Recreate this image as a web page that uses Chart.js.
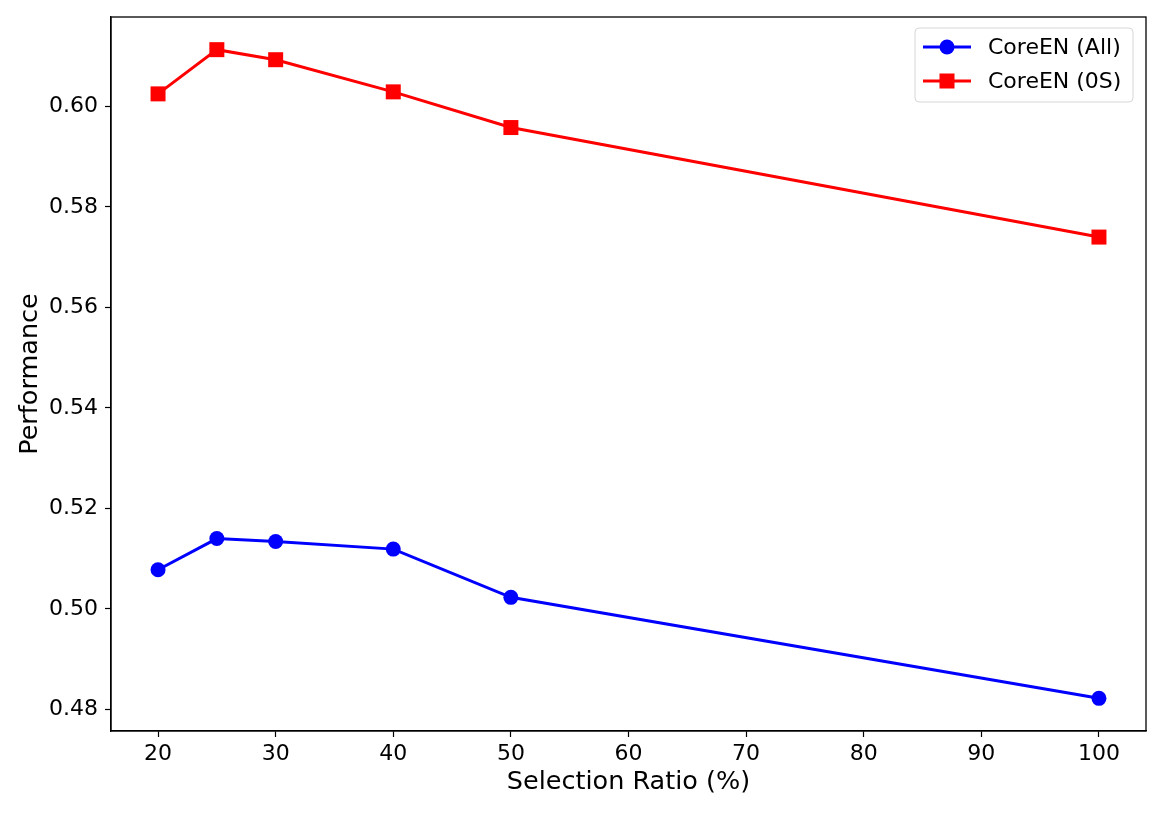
<!DOCTYPE html>
<html>
<head>
<meta charset="utf-8">
<script src="https://cdn.jsdelivr.net/npm/chart.js@4"></script>
<style>
html,body{margin:0;padding:0;background:#fff;}
#wrap{width:1163px;height:814px;position:relative;}
</style>
</head>
<body>
<div id="wrap"><canvas id="c" width="1163" height="814"></canvas></div>
<script>
const ratios = [20, 25, 30, 40, 50, 100];
const coreAll = [0.5078, 0.5140, 0.5134, 0.5119, 0.5023, 0.4822];
const core0S = [0.6025, 0.6113, 0.6093, 0.6029, 0.5958, 0.5740];
const xTicks = [20, 30, 40, 50, 60, 70, 80, 90, 100];
const yTicks = [0.48, 0.50, 0.52, 0.54, 0.56, 0.58, 0.60];
const seriesNames = ['CoreEN (All)', 'CoreEN (0S)'];

const FONT = "'DejaVu Sans', sans-serif";

const framePlugin = {
  id: 'frame',
  afterDraw(chart) {
    const ctx = chart.ctx;
    const ca = chart.chartArea;
    ctx.save();
    ctx.strokeStyle = '#000';
    ctx.lineWidth = 1.3;
    ctx.strokeRect(ca.left, ca.top, ca.right - ca.left, ca.bottom - ca.top);
    ctx.restore();
  }
};

const legendPlugin = {
  id: 'mplLegend',
  afterDatasetsDraw(chart) {
    const ctx = chart.ctx;
    const ca = chart.chartArea;
    const x0 = ca.right - 231, y0 = ca.top + 11, w = 218, h = 74;
    ctx.save();
    ctx.beginPath();
    const r = 4;
    ctx.moveTo(x0 + r, y0);
    ctx.arcTo(x0 + w, y0, x0 + w, y0 + h, r);
    ctx.arcTo(x0 + w, y0 + h, x0, y0 + h, r);
    ctx.arcTo(x0, y0 + h, x0, y0, r);
    ctx.arcTo(x0, y0, x0 + w, y0, r);
    ctx.closePath();
    ctx.fillStyle = 'rgba(255,255,255,0.8)';
    ctx.fill();
    ctx.strokeStyle = '#d6d6d6';
    ctx.lineWidth = 1;
    ctx.stroke();
    chart.data.datasets.forEach((ds, i) => {
      const cy = y0 + 19 + i * 34;
      ctx.strokeStyle = ds.borderColor;
      ctx.lineWidth = 3;
      ctx.beginPath();
      ctx.moveTo(x0 + 8, cy);
      ctx.lineTo(x0 + 56, cy);
      ctx.stroke();
      ctx.fillStyle = ds.borderColor;
      if (ds.pointStyle === 'rect') {
        ctx.fillRect(x0 + 32 - 7.5, cy - 7.5, 15, 15);
      } else {
        ctx.beginPath();
        ctx.arc(x0 + 32, cy, 7.5, 0, Math.PI * 2);
        ctx.fill();
      }
      ctx.fillStyle = '#000';
      ctx.font = '22px ' + FONT;
      ctx.textBaseline = 'middle';
      ctx.textAlign = 'left';
      ctx.fillText(ds.label, x0 + 73, cy + 1);
    });
    ctx.restore();
  }
};

new Chart(document.getElementById('c'), {
  type: 'line',
  data: {
    datasets: [
      {
        label: seriesNames[0],
        data: ratios.map((x, i) => ({x, y: coreAll[i]})),
        borderColor: '#0000ff',
        backgroundColor: '#0000ff',
        borderWidth: 3,
        pointStyle: 'circle',
        pointRadius: 7.5,
        pointHoverRadius: 7.5,
        pointBorderWidth: 0,
        tension: 0
      },
      {
        label: seriesNames[1],
        data: ratios.map((x, i) => ({x, y: core0S[i]})),
        borderColor: '#ff0000',
        backgroundColor: '#ff0000',
        borderWidth: 3,
        pointStyle: 'rect',
        pointRadius: 10.6,
        pointHoverRadius: 10.6,
        pointBorderWidth: 0,
        tension: 0
      }
    ]
  },
  options: {
    responsive: false,
    animation: false,
    events: [],
    layout: {padding: {top: 17, right: 17, left: 0, bottom: 0}},
    plugins: {legend: {display: false}, tooltip: {enabled: false}},
    scales: {
      x: {
        type: 'linear',
        min: 16, max: 104,
        afterBuildTicks: (s) => { s.ticks = xTicks.map(v => ({value: v})); },
        afterFit: (s) => { s.height = 83; s.paddingLeft = 0; s.paddingRight = 0; },
        grid: {drawOnChartArea: false, tickLength: 6, color: '#000', tickWidth: 1.2},
        border: {color: '#000', width: 1.3},
        ticks: {color: '#000', font: {family: FONT, size: 22}, padding: 4, maxRotation: 0},
        title: {display: true, text: 'Selection Ratio (%)', color: '#000', font: {family: FONT, size: 25.5}, padding: {top: 0, bottom: 16}}
      },
      y: {
        type: 'linear',
        min: 0.4757, max: 0.6178,
        afterBuildTicks: (s) => { s.ticks = yTicks.map(v => ({value: v})); },
        afterFit: (s) => { s.width = 111; s.paddingTop = 0; s.paddingBottom = 0; },
        grid: {drawOnChartArea: false, tickLength: 6, color: '#000', tickWidth: 1.2},
        border: {color: '#000', width: 1.3},
        ticks: {color: '#000', font: {family: FONT, size: 22}, padding: 7, callback: (v) => v.toFixed(2)},
        title: {display: true, text: 'Performance', color: '#000', font: {family: FONT, size: 25.5}, padding: {top: 15, bottom: 0}}
      }
    }
  },
  plugins: [legendPlugin, framePlugin]
});
</script>
</body>
</html>
